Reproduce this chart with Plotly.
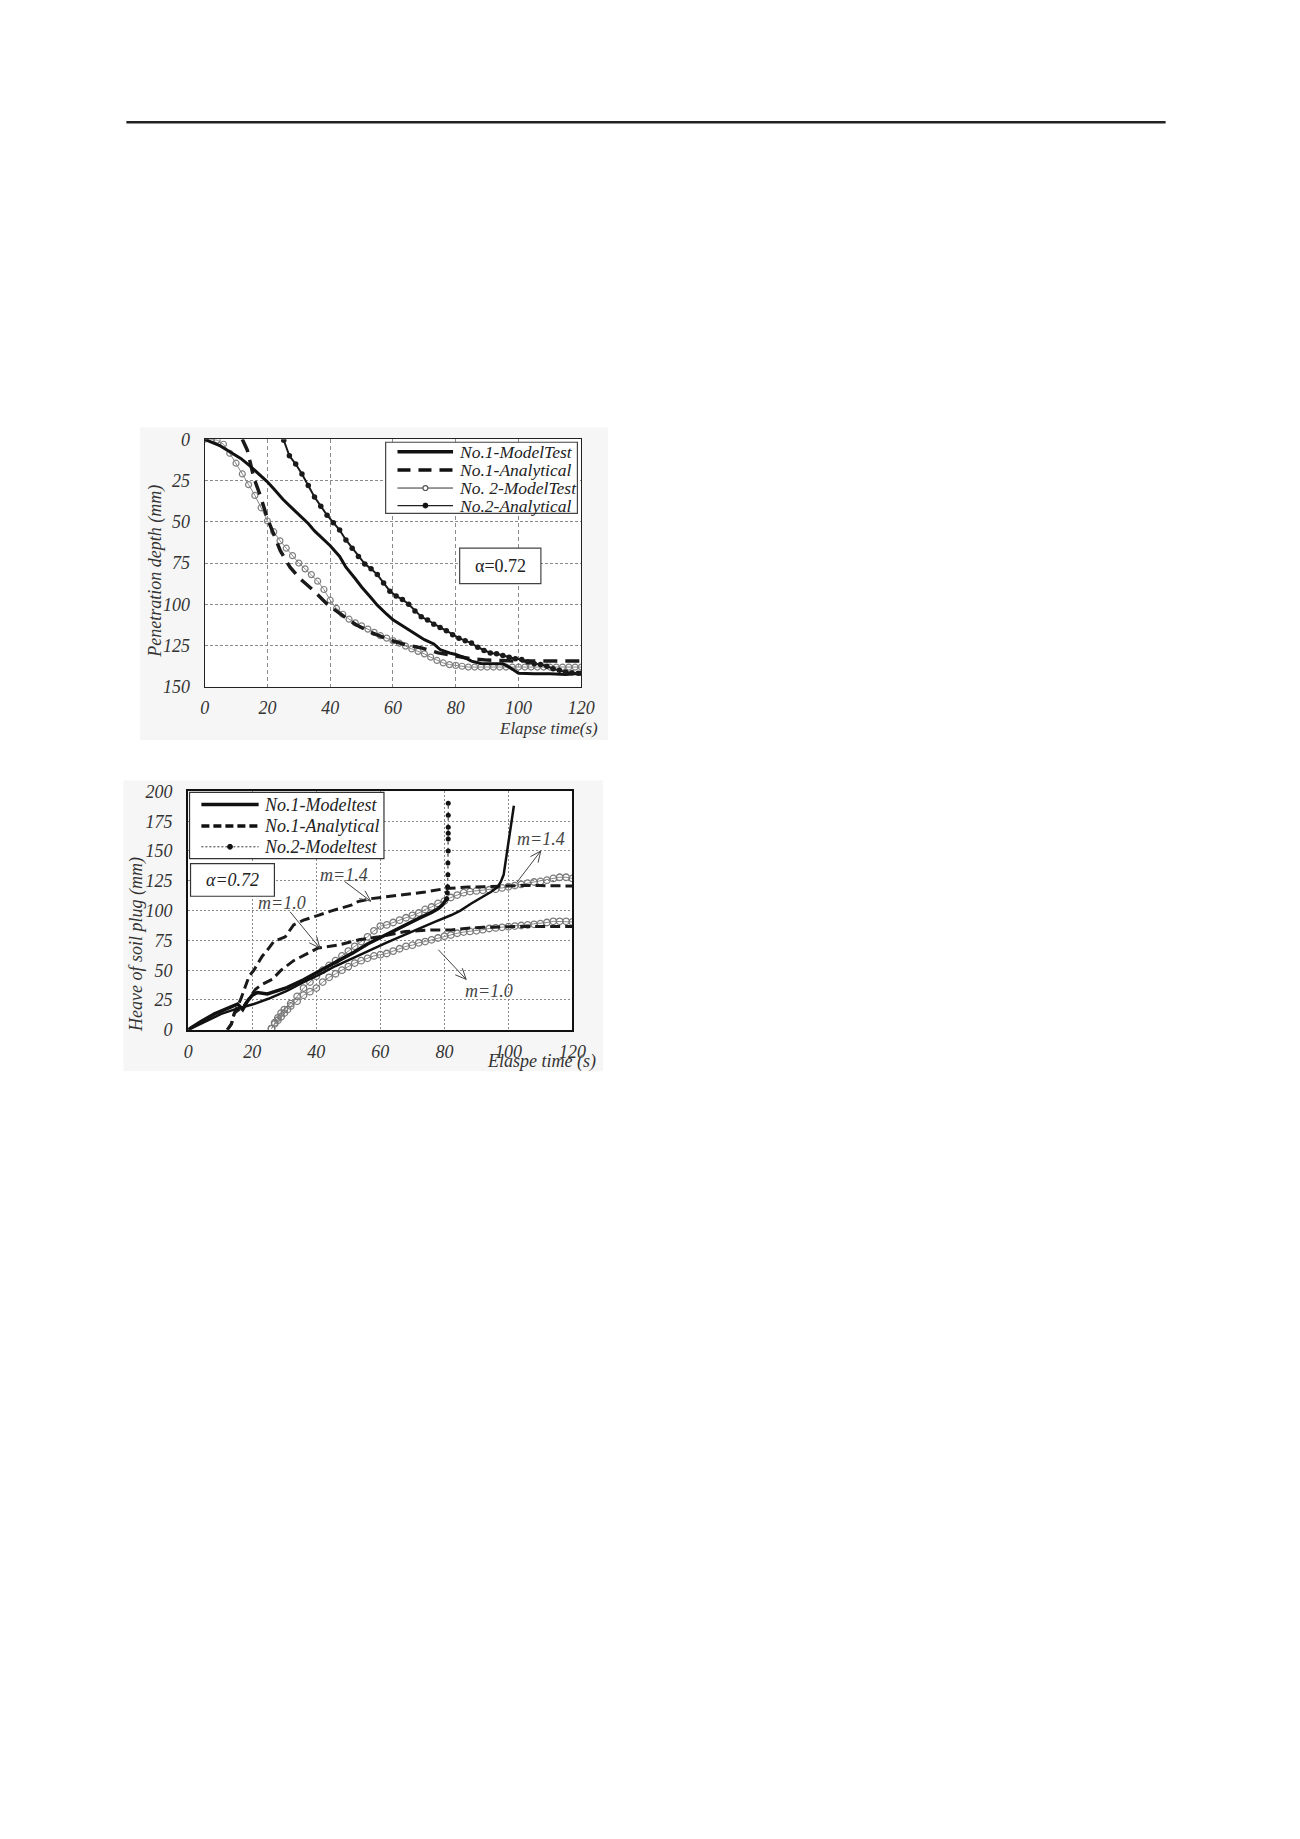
import math
import plotly.graph_objects as go

# ---------------- data: top chart (penetration depth, mm vs elapse time, s) ----------------
top_no1_model_t = [0, 5, 8, 11.5, 14.7, 19.9, 22, 25, 28, 30, 33, 35, 38, 40, 43, 45, 48, 50, 53, 55, 58, 60, 63, 65,
                   68, 70, 73, 75, 78, 80, 83, 85, 88, 90, 93, 95, 97, 100, 105, 110, 115, 120]
top_no1_model_d = [0, 4, 7.5, 11.6, 16.6, 25.6, 30, 36.5, 42, 45.5, 51, 55.5, 61, 64.5, 71, 77.5, 84.5, 89.5, 96, 100.5,
                   106, 109.4, 113, 115.4, 119, 121.4, 124, 127.4, 129.5, 130.4, 132.5, 134.4, 135.8, 135.8, 136,
                   136, 138, 141.8, 142, 142, 142.5, 141.8]

top_no1_anal_t = [12, 13.6, 15.7, 17.8, 19.9, 21.9, 24.1, 27.2, 30.4, 34.6, 38.8, 43, 48.2, 53.5, 58.7, 63.9, 69,
                  74.4, 79.7, 84.9, 90.1, 95, 100, 110, 120]
top_no1_anal_d = [0, 6.6, 23.6, 34.5, 47.5, 57.5, 67.5, 77.5, 84.5, 91.5, 99.5, 105.5, 112.4, 117.4, 121.4, 124.4,
                  126.4, 129.4, 131.4, 133, 133.8, 134.2, 134.4, 134.4, 134.4]

top_no2_model_t = [0, 2, 4, 6, 8, 10, 12, 14, 16, 18, 20, 22, 24, 26, 28, 30, 32, 34, 36, 38, 40, 42, 44, 46, 48, 50,
                   52, 54, 56, 58, 60, 62, 64, 66, 68, 70, 72, 74, 76, 78, 80, 82, 84, 86, 88, 90, 92, 94, 96, 98,
                   100, 102, 104, 106, 108, 110, 112, 114, 116, 118, 120]
top_no2_model_d = [0, 0, 0.5, 3, 8.5, 14.5, 21, 27.5, 34, 41.5, 49.5, 56, 61.5, 66, 70.5, 75, 78.5, 82, 86, 91, 97.5,
                   102.5, 106, 109, 111.2, 113, 115, 117, 119, 120.5, 122, 123.5, 125.3, 127, 128.5, 130, 132, 134,
                   135.5, 136.5, 137, 137.5, 138, 138, 138, 138, 138, 138, 138, 138, 138, 138, 138, 138, 138, 138,
                   138, 138, 138, 138, 138]

top_no2_anal_t = [25.2, 27, 29, 31, 33, 35, 37, 39, 41, 43, 45, 47, 49, 51, 53, 55, 57, 59, 61, 63, 65, 67, 69, 71,
                  73, 75, 77, 79, 81, 83, 85, 87, 89, 91, 93, 95, 97, 99, 101, 103, 105, 107, 109, 111, 113, 115,
                  117, 119, 120]
top_no2_anal_d = [0.6, 10, 15, 21, 28, 35, 40.5, 46, 50.5, 55, 61, 66, 71, 75.5, 78.5, 82, 87, 92, 95, 97, 100, 104,
                  107.5, 109.5, 112, 114, 116, 118.5, 120.5, 122, 123.5, 126, 128, 129.5, 130, 131, 132, 133, 133.5,
                  135, 136, 136.5, 137.5, 139, 140, 141, 141.5, 141.8, 141.8]

# ---------------- data: bottom chart (heave of soil plug, mm vs elapse time, s) ----------------
bot_no1_model_t = [0, 5, 10.3, 15, 20.5, 25, 30.8, 36, 41.1, 46, 51.4, 56, 61.6, 67, 72, 77, 82.2, 85, 88.4, 91,
                   94.5, 96.5, 97.6, 98.5, 99.1, 99.8, 100.7, 101.2, 101.7]
bot_no1_model_h = [0, 6.5, 13.3, 17.5, 21.6, 26, 32.6, 40, 46.5, 53.5, 60.3, 66, 72.8, 79, 85, 90.5, 96.3, 100, 106,
                   110, 115.6, 119.5, 124, 130, 140.5, 155, 171, 180, 188]

bot_no1_model2_t = [0, 4, 8.2, 12, 15.4, 17, 18.5, 20, 21.6, 24.7, 27, 30.8, 36, 41.1, 46, 51.4, 56, 61.6, 67, 72,
                    76, 78.1, 79.5, 80.3, 80.7]
bot_no1_model2_h = [0, 7, 13.3, 18, 21.6, 17, 24, 29, 31.3, 30, 32, 35.4, 42, 49.2, 56.5, 64.5, 72, 79.7, 86.5,
                    93.5, 98.5, 101.8, 105, 108, 110]

bot_no2_model_t = [80.7, 80.9, 81.0, 81.1, 81.1, 81.2, 81.2, 81.2, 81.2, 81.2, 81.2]
bot_no2_model_h = [110, 115, 120, 130, 140, 150, 160, 165, 170, 180, 190]

bot_anal_m14_t = [12.2, 13.5, 14.4, 16.4, 19, 20.5, 23.1, 24.5, 26.7, 30.3, 32.9, 36, 40.6, 45, 50.9, 53, 57, 61.6,
                  67.8, 74, 80.1, 87.3, 92.5, 102.7, 110, 120]
bot_anal_m14_h = [0, 5, 14, 25.7, 45, 50, 61.7, 66, 74, 78, 88, 92, 96, 100, 104.6, 107.5, 110, 111.5, 113, 115.6,
                  118.4, 119.8, 120, 121, 121, 120.6]

bot_anal_m10_t = [12.2, 13.5, 14.4, 17.4, 21, 23, 26.2, 29, 32.9, 36, 40.6, 47.3, 53.4, 59.6, 67.8, 76, 82.2, 87.3,
                  92.5, 102.7, 110, 120]
bot_anal_m10_h = [0, 5, 14, 20, 34, 38, 42.3, 50, 58, 62, 68.6, 71.4, 75.5, 78, 82.4, 83.8, 83.8, 85.2, 86, 86.6,
                  86.6, 86.6]

bot_circ_m14_t = [26, 27, 28, 29, 30, 32, 34, 36, 38, 40, 42, 44, 46, 48, 50, 52, 54, 56, 58, 60, 62, 64, 66, 68,
                  70, 72, 74, 76, 78, 80, 82, 84, 86, 88, 90, 92, 94, 96, 98, 100, 102, 104, 106, 108, 110, 112,
                  114, 116, 118, 120]
bot_circ_m14_h = [1, 6, 10, 14, 17, 22, 28, 35, 40, 45, 50, 54, 58, 62, 66, 70, 74, 78, 83, 87, 88, 90, 92, 94, 96,
                  98, 101, 103, 106, 108, 111, 113, 115, 116, 116.5, 117, 117.5, 118, 119, 120, 121, 122, 123, 124,
                  124.5, 125.5, 127, 128, 128, 127]

bot_circ_m10_t = [26, 27, 28, 29, 30, 31, 32, 34, 36, 38, 40, 42, 44, 46, 48, 50, 52, 54, 56, 58, 60, 62, 64, 66,
                  68, 70, 72, 74, 76, 78, 80, 82, 84, 86, 88, 90, 92, 94, 96, 98, 100, 102, 104, 106, 108, 110, 112,
                  114, 116, 118, 120]
bot_circ_m10_h = [1, 5, 8, 11, 14, 17, 20, 24, 29, 32, 35, 40, 44, 47, 50, 53, 56, 58, 60, 62, 63, 64, 66, 68, 70,
                  71, 73, 74, 75.5, 77, 78.5, 79.5, 81, 82, 82.5, 83, 84, 85, 85.5, 86, 86.5, 87, 87.5, 88, 88.5, 89,
                  90, 91, 91, 91, 90.5]

# annotation labels (bottom chart): text, t, h
m_labels = [("m=1.4", 48.5, 129.5), ("m=1.0", 29.3, 106), ("m=1.4", 110.1, 160), ("m=1.0", 94, 32.6)]
# arrows: tail (t, h) -> head (t, h)
m_arrows = [(48.8, 124.5, 57, 107.9), (31.8, 99, 41.1, 68.6), (102.7, 123.9, 110.1, 150), (78.1, 67.2, 86.8, 42.3)]

top_x_ticks = [0, 20, 40, 60, 80, 100, 120]
top_y_ticks = [0, 25, 50, 75, 100, 125, 150]
bot_x_ticks = [0, 20, 40, 60, 80, 100, 120]
bot_y_ticks = [0, 25, 50, 75, 100, 125, 150, 175, 200]

# ---------------- page geometry helpers (body margin removed via post_script) ----------------
W, H = 1300, 1839
BOT_L, BOT_R, BOT_T, BOT_B = 186.7, 576, 790, 1031


def PX(x):
    return x / W


def PY(y):
    return 1 - y / H


def bot_px(t, h):
    return BOT_L + t * (BOT_R - BOT_L) / 120, BOT_B - h * (BOT_B - BOT_T) / 200


SERIF = "Liberation Serif"
TXT = "#333333"

fig = go.Figure()

# top chart traces
fig.add_trace(go.Scatter(x=top_no2_model_t, y=top_no2_model_d, mode="lines+markers", xaxis="x", yaxis="y",
                         line=dict(color="#888888", width=1),
                         marker=dict(symbol="circle-open", size=6, color="#808080", line=dict(width=1.2)),
                         showlegend=False))
fig.add_trace(go.Scatter(x=top_no1_anal_t, y=top_no1_anal_d, mode="lines", xaxis="x", yaxis="y",
                         line=dict(color="#1a1a1a", width=3.5, dash="14px,8px"), showlegend=False))
fig.add_trace(go.Scatter(x=top_no1_model_t, y=top_no1_model_d, mode="lines", xaxis="x", yaxis="y",
                         line=dict(color="#111111", width=3), showlegend=False))
fig.add_trace(go.Scatter(x=top_no2_anal_t, y=top_no2_anal_d, mode="lines+markers", xaxis="x", yaxis="y",
                         line=dict(color="#1a1a1a", width=2),
                         marker=dict(symbol="circle", size=5.5, color="#1a1a1a"), showlegend=False))

# bottom chart traces
for tt, hh in [(bot_circ_m14_t, bot_circ_m14_h), (bot_circ_m10_t, bot_circ_m10_h)]:
    fig.add_trace(go.Scatter(x=tt, y=hh, mode="lines+markers", xaxis="x2", yaxis="y2",
                             line=dict(color="#888888", width=1),
                             marker=dict(symbol="circle-open", size=6.5, color="#7a7a7a", line=dict(width=1.3)),
                             showlegend=False))
for tt, hh in [(bot_anal_m14_t, bot_anal_m14_h), (bot_anal_m10_t, bot_anal_m10_h)]:
    fig.add_trace(go.Scatter(x=tt, y=hh, mode="lines", xaxis="x2", yaxis="y2",
                             line=dict(color="#1a1a1a", width=3, dash="10px,5px"), showlegend=False))
fig.add_trace(go.Scatter(x=bot_no1_model_t, y=bot_no1_model_h, mode="lines", xaxis="x2", yaxis="y2",
                         line=dict(color="#111111", width=2.5), showlegend=False))
fig.add_trace(go.Scatter(x=bot_no1_model2_t, y=bot_no1_model2_h, mode="lines", xaxis="x2", yaxis="y2",
                         line=dict(color="#111111", width=3.5), showlegend=False))
fig.add_trace(go.Scatter(x=bot_no2_model_t, y=bot_no2_model_h, mode="lines+markers", xaxis="x2", yaxis="y2",
                         line=dict(color="#222222", width=1, dash="dot"),
                         marker=dict(symbol="circle", size=5, color="#111111"), showlegend=False))

shapes = []
annotations = []


def pline(x0, y0, x1, y1, color, width, dash=None):
    ln = dict(color=color, width=width)
    if dash:
        ln["dash"] = dash
    shapes.append(dict(type="line", xref="paper", yref="paper", x0=PX(x0), x1=PX(x1), y0=PY(y0), y1=PY(y1),
                       line=ln))


# page decoration
pline(124, 113.5, 1177, 113.5, "#222222", 2.5)
shapes.append(dict(type="rect", xref="paper", yref="paper", x0=PX(138), x1=PX(612), y0=PY(738), y1=PY(422),
                   fillcolor="#f6f6f6", line=dict(width=0), layer="below"))
shapes.append(dict(type="rect", xref="paper", yref="paper", x0=PX(121), x1=PX(607), y0=PY(1073), y1=PY(779),
                   fillcolor="#f6f6f6", line=dict(width=0), layer="below"))
shapes.append(dict(type="rect", xref="paper", yref="paper", x0=PX(203.3), x1=PX(585), y0=PY(684.3), y1=PY(434),
                   fillcolor="white", line=dict(width=0), layer="below"))
shapes.append(dict(type="rect", xref="paper", yref="paper", x0=PX(BOT_L), x1=PX(BOT_R), y0=PY(BOT_B), y1=PY(BOT_T),
                   fillcolor="white", line=dict(width=0), layer="below"))

# top legend (drawn)
shapes.append(dict(type="rect", xref="paper", yref="paper", x0=PX(386.7), x1=PX(581), y0=PY(509), y1=PY(437),
                   fillcolor="white", line=dict(color="#444444", width=1.2)))
pline(398.7, 446.7, 455, 446.7, "#111111", 3.5)
pline(398.7, 465, 455, 465, "#111111", 3.5, "13px,8px")
pline(398.7, 483.3, 455, 483.3, "#333333", 1)
shapes.append(dict(type="circle", xref="paper", yref="paper", x0=PX(424.5), x1=PX(429.5), y0=PY(485.8),
                   y1=PY(480.8), fillcolor="white", line=dict(color="#555555", width=1.2)))
pline(398.7, 501, 455, 501, "#222222", 1.2)
shapes.append(dict(type="circle", xref="paper", yref="paper", x0=PX(424.5), x1=PX(429.5), y0=PY(503.5),
                   y1=PY(498.5), fillcolor="#111111", line=dict(color="#111111", width=1)))
for label, yy in [("No.1-ModelTest", 446.7), ("No.1-Analytical", 465), ("No. 2-ModelTest", 483.3),
                  ("No.2-Analytical", 501)]:
    annotations.append(dict(text=label, xref="paper", yref="paper", x=PX(459), y=PY(yy), xanchor="left",
                            yanchor="middle", showarrow=False,
                            font=dict(family=SERIF, size=17.5, color="#222222", style="italic")))

# top alpha box
shapes.append(dict(type="rect", xref="paper", yref="paper", x0=PX(461.7), x1=PX(544), y0=PY(580), y1=PY(544),
                   fillcolor="white", line=dict(color="#444444", width=1.2)))
annotations.append(dict(text="α=0.72", xref="paper", yref="paper", x=PX(502.8), y=PY(562), xanchor="center",
                        yanchor="middle", showarrow=False, font=dict(family=SERIF, size=18, color="#222222")))

# top axis titles
annotations.append(dict(text="Penetration depth (mm)", xref="paper", yref="paper", x=PX(154), y=PY(567),
                        xanchor="center", yanchor="middle", textangle=-90, showarrow=False,
                        font=dict(family=SERIF, size=18, color=TXT, style="italic")))
annotations.append(dict(text="Elapse time(s)", xref="paper", yref="paper", x=PX(604), y=PY(726),
                        xanchor="right", yanchor="middle", showarrow=False,
                        font=dict(family=SERIF, size=17, color=TXT, style="italic")))

# bottom legend (drawn)
shapes.append(dict(type="rect", xref="paper", yref="paper", x0=PX(188), x1=PX(385), y0=PY(858), y1=PY(791),
                   fillcolor="white", line=dict(color="#333333", width=1.2)))
pline(200, 803.3, 258, 803.3, "#111111", 3.5)
pline(200, 825, 258, 825, "#111111", 3.5, "8px,4px")
pline(200, 846, 258, 846, "#333333", 1, "2px,2px")
shapes.append(dict(type="circle", xref="paper", yref="paper", x0=PX(226.5), x1=PX(231.5), y0=PY(848.5),
                   y1=PY(843.5), fillcolor="#111111", line=dict(color="#111111", width=1)))
for label, yy in [("No.1-Modeltest", 803.3), ("No.1-Analytical", 825), ("No.2-Modeltest", 846)]:
    annotations.append(dict(text=label, xref="paper", yref="paper", x=PX(261), y=PY(yy), xanchor="left",
                            yanchor="middle", showarrow=False,
                            font=dict(family=SERIF, size=18, color="#222222", style="italic")))

# bottom alpha box
shapes.append(dict(type="rect", xref="paper", yref="paper", x0=PX(189), x1=PX(274), y0=PY(896), y1=PY(863),
                   fillcolor="white", line=dict(color="#333333", width=1.2)))
annotations.append(dict(text="α=0.72", xref="paper", yref="paper", x=PX(231.5), y=PY(880), xanchor="center",
                        yanchor="middle", showarrow=False,
                        font=dict(family=SERIF, size=18, color="#222222", style="italic")))

# bottom axis titles
annotations.append(dict(text="Heave of soil plug (mm)", xref="paper", yref="paper", x=PX(134), y=PY(945),
                        xanchor="center", yanchor="middle", textangle=-90, showarrow=False,
                        font=dict(family=SERIF, size=18, color=TXT, style="italic")))
annotations.append(dict(text="Elaspe time (s)", xref="paper", yref="paper", x=PX(545), y=PY(1063),
                        xanchor="center", yanchor="middle", showarrow=False,
                        font=dict(family=SERIF, size=18, color=TXT, style="italic")))

# bottom m labels and open-V arrows
mfont = dict(family=SERIF, size=18, color="#444444", style="italic")
for txt, tx, ty in m_labels:
    annotations.append(dict(text=txt, x=tx, y=ty, xref="x2", yref="y2", showarrow=False, font=mfont))
for t0, h0, t1, h1 in m_arrows:
    xa, ya = bot_px(t0, h0)
    xb, yb = bot_px(t1, h1)
    pline(xa, ya, xb, yb, "#444444", 1)
    ang = math.atan2(ya - yb, xa - xb)
    for da in (0.42, -0.42):
        pline(xb, yb, xb + 12 * math.cos(ang + da), yb + 12 * math.sin(ang + da), "#444444", 1)

tickfont = dict(family=SERIF, size=18, color=TXT, style="italic")
grid_common = dict(showgrid=True, gridcolor="#8a8a8a", gridwidth=1, zeroline=False, mirror=True,
                   showline=True, ticks="outside", tickcolor="rgba(0,0,0,0)", tickfont=tickfont)

fig.update_layout(
    width=W, height=H, margin=dict(l=0, r=0, t=0, b=0), autosize=False,
    paper_bgcolor="white", plot_bgcolor="white", showlegend=False,
    xaxis=dict(domain=[PX(203.3), PX(585)], range=[0, 120], tickvals=top_x_ticks, anchor="y",
               griddash="4px,3px", linecolor="#222222", linewidth=1.3, ticklen=4, **grid_common),
    yaxis=dict(domain=[PY(684.3), PY(434)], range=[150, 0], tickvals=top_y_ticks, anchor="x",
               griddash="3px,2px", linecolor="#222222", linewidth=1.3, ticklen=10, **grid_common),
    xaxis2=dict(domain=[PX(BOT_L), PX(BOT_R)], range=[0, 120], tickvals=bot_x_ticks, anchor="y2",
                griddash="2px,2px", linecolor="#111111", linewidth=2.2, ticklen=5, **grid_common),
    yaxis2=dict(domain=[PY(BOT_B), PY(BOT_T)], range=[0, 200], tickvals=bot_y_ticks, anchor="x2",
                griddash="2px,2px", linecolor="#111111", linewidth=2.2, ticklen=10, **grid_common),
    shapes=shapes, annotations=annotations,
)

fig.write_html("out.html", config={"displayModeBar": False},
               post_script="document.body.style.margin='0';document.body.style.overflow='hidden';")
